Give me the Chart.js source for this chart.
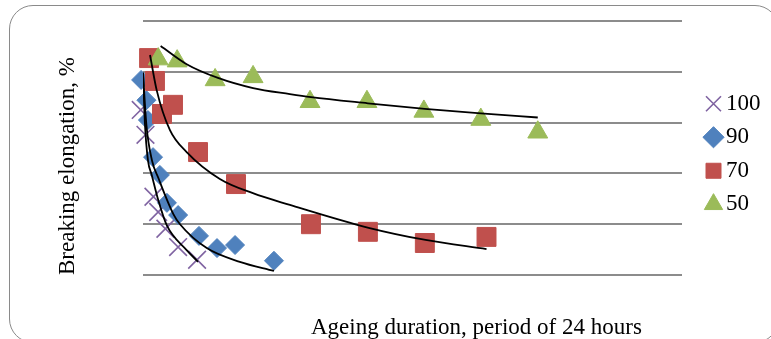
<!DOCTYPE html>
<html>
<head>
<meta charset="utf-8">
<script src="https://cdn.jsdelivr.net/npm/chart.js@4.4.0/dist/chart.umd.min.js"></script>
<style>
    html, body { margin: 0; padding: 0; background: #fff; overflow: hidden; }
    #wrap { position: relative; width: 771px; height: 339px; overflow: hidden; }
    #frame { position: absolute; left: 9px; top: 5px; width: 770px; height: 338px; box-sizing: border-box;
             border: 1.5px solid #8a8a8a; border-radius: 24px; }
    #chart { position: absolute; left: 0; top: 0; }
    #xTitle { position: absolute; left: 311px; top: 315px; font-family: "Liberation Serif", serif; font-size: 23px;
              line-height: 23px; color: #000; white-space: nowrap; }
</style>
</head>
<body>
<div id="wrap">
    <div id="frame"></div>
    <canvas id="chart" width="771" height="339"></canvas>
    <div id="xTitle">Ageing duration, period of 24 hours</div>
</div>
<script>
// series (ageing temperature) -> days / breaking elongation
const seriesLabels = ['100', '90', '70', '50'];

const days100 = [0, 0.08, 0.33, 0.75, 1, 1.38, 2.05, 3.05];
const elong100 = [380, 325, 276, 154, 124, 91, 55, 30];

const days90 = [0.1, 0.38, 0.46, 0.73, 1.09, 1.46, 2.05, 3.15, 4.1, 5.05, 7.1];
const elong90 = [384, 344, 305, 232, 197, 142, 118, 77, 53, 59, 28];

const days70 = [0.52, 0.83, 1.2, 1.78, 3.1, 5.1, 9.05, 12.05, 15.05, 18.3];
const elong70 = [427, 382, 317, 335, 242, 179, 100, 85, 63, 75];

const days50 = [1, 2, 4, 6, 9, 12, 15, 18, 21];
const elong50 = [425, 421, 384, 390, 341, 341, 322, 306, 281];

// trend lines
const trendDays100 = [0.2, 0.3, 0.46, 0.66, 1.0, 1.45, 2.5, 3.1];
const trendElong100 = [398, 299, 226, 197, 148, 98, 49, 26];

const trendDays90 = [0.2, 0.38, 0.67, 1.01, 1.8, 2.15, 3.56, 5.3, 7.1];
const trendElong90 = [398, 295, 226, 191, 120, 100, 53, 26, 8];

const trendDays70 = [0.57, 0.92, 1.62, 2.5, 4.25, 5.99, 7.94, 12.09, 15.09, 18.3];
const trendElong70 = [433, 364, 285, 242, 189, 161, 138, 93, 69, 51];

const trendDays50 = [1.13, 2.5, 4.15, 6.0, 7.94, 9.05, 12.05, 15.05, 18.0, 21.0];
const trendElong50 = [451, 415, 388, 368, 356, 350, 338, 327, 318, 310];

const yTicks = [0, 100, 200, 300, 400, 500];

const PURPLE = '#8064A2';
const BLUE = '#4F81BD';
const RED = '#C0504D';
const GREEN = '#9BBB59';
const FONT = 'Liberation Serif';

function toPoints(xs, ys) {
    return xs.map((x, i) => ({x: x, y: ys[i]}));
}

function pointSet(label, xs, ys, color, style, radius, order) {
    return {
        label: label,
        data: toPoints(xs, ys),
        showLine: false,
        pointStyle: style,
        pointRadius: radius,
        pointHoverRadius: radius,
        pointBorderWidth: style === 'crossRot' ? 1.6 : 1,
        borderColor: color,
        backgroundColor: color,
        clip: false,
        order: order
    };
}

function trendSet(xs, ys) {
    return {
        label: '',
        data: toPoints(xs, ys),
        showLine: true,
        pointRadius: 0,
        borderColor: '#000',
        borderWidth: 1.8,
        cubicInterpolationMode: 'monotone',
        fill: false,
        order: 0
    };
}

let chart = new Chart(document.getElementById('chart'), {
    type: 'scatter',
    data: {
        datasets: [
            pointSet(seriesLabels[0], days100, elong100, PURPLE, 'crossRot', 12.5, 4),
            pointSet(seriesLabels[1], days90, elong90, BLUE, 'rectRot', 9.5, 3),
            pointSet(seriesLabels[2], days70, elong70, RED, 'rect', 13.4, 2),
            pointSet(seriesLabels[3], days50, elong50, GREEN, 'triangle', 11.5, 1),
            trendSet(trendDays100, trendElong100),
            trendSet(trendDays90, trendElong90),
            trendSet(trendDays70, trendElong70),
            trendSet(trendDays50, trendElong50)
        ]
    },
    options: {
        responsive: false,
        animation: false,
        layout: { padding: { left: 54.4, top: 21, bottom: 64, right: 0.5 } },
        scales: {
            x: { type: 'linear', min: 0.2, max: 28.6, display: false },
            y: {
                min: yTicks[0],
                max: yTicks[yTicks.length - 1],
                afterBuildTicks: (scale) => { scale.ticks = yTicks.map(v => ({value: v})); },
                ticks: { display: false },
                grid: { color: '#8c8c8c', lineWidth: 2, drawTicks: false },
                border: { display: false },
                title: {
                    display: true,
                    text: 'Breaking elongation, %',
                    align: 'start',
                    color: '#000',
                    font: { family: FONT, size: 23 },
                    padding: { top: 0, bottom: 61 }
                }
            },
            // spacer between plot and legend
            y2: {
                position: 'right',
                display: true,
                grid: { display: false },
                ticks: { display: false },
                border: { display: false },
                afterFit: (scale) => { scale.width = 20; }
            }
        },
        plugins: {
            legend: {
                position: 'right',
                align: 'center',
                reverse: true,
                title: { display: true, text: ' ', font: { size: 10 }, padding: 0 },
                labels: {
                    usePointStyle: true,
                    boxWidth: 2,
                    boxHeight: 15,
                    padding: 10.5,
                    color: '#000',
                    font: { family: FONT, size: 23 },
                    filter: (item) => item.text !== ''
                }
            },
            tooltip: { enabled: false }
        }
    }
});
</script>
</body>
</html>
